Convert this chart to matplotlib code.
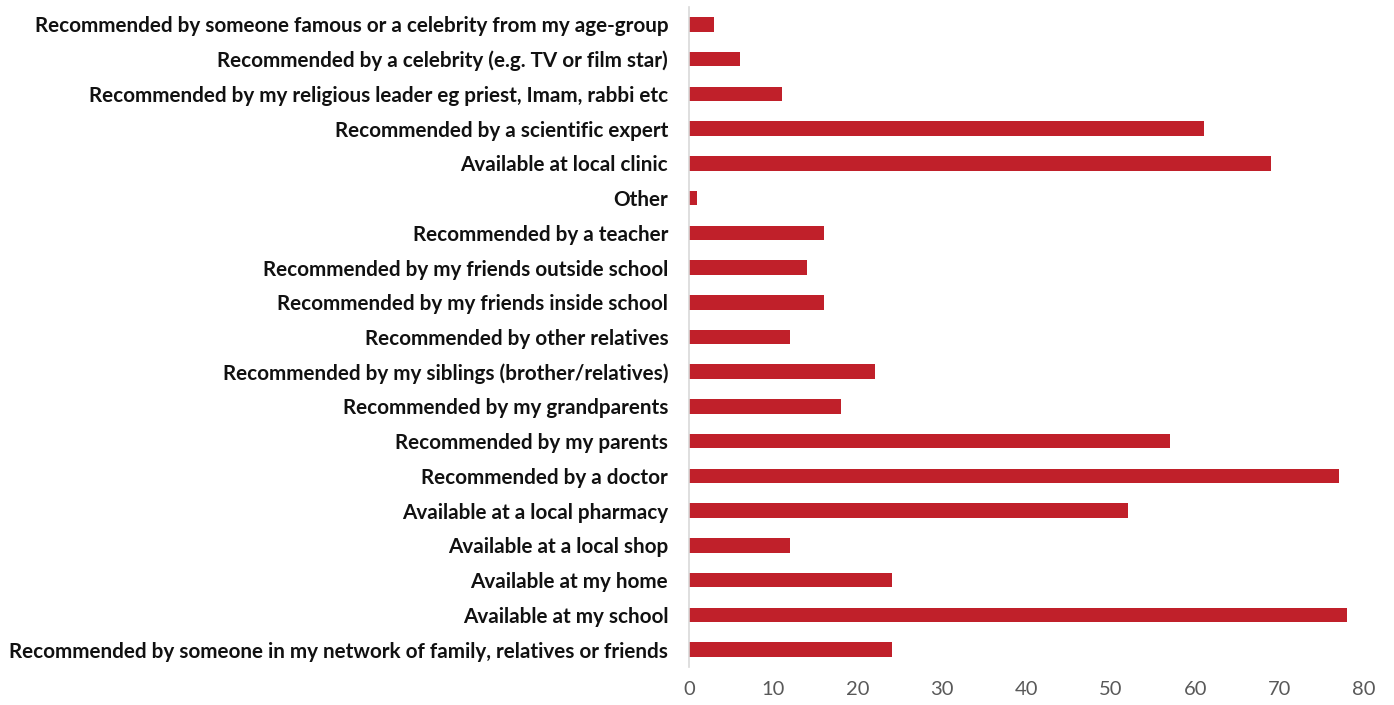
import numpy as np
import matplotlib.pyplot as plt

# ═══ Data ═════════════════════════════════════════════════════════════════

labels = [
  'Recommended by someone famous or a celebrity from my age-group',
  'Recommended by a celebrity (e.g. TV or film star)',
  'Recommended by my religious leader eg priest, Imam, rabbi etc',
  'Recommended by a scientific expert',
  'Available at local clinic',
  'Other',
  'Recommended by a teacher',
  'Recommended by my friends outside school',
  'Recommended by my friends inside school',
  'Recommended by other relatives',
  'Recommended by my siblings (brother/relatives)',
  'Recommended by my grandparents',
  'Recommended by my parents',
  'Recommended by a doctor',
  'Available at a local pharmacy',
  'Available at a local shop',
  'Available at my home',
  'Available at my school',
  'Recommended by someone in my network of family, relatives or friends',
]
values = [3, 6, 11, 61, 69, 1, 16, 14, 16, 12, 22, 18, 57, 77, 52, 12, 24, 78, 24]
xticks = [0, 10, 20, 30, 40, 50, 60, 70, 80]

# ═══ Figure ═══════════════════════════════════════════════════════════════

plt.rcParams['font.family'] = ['Lato', 'DejaVu Sans']

fig = plt.figure(figsize=(13.94, 7.05), dpi=100)
ax = fig.add_axes([0.4943, 0.054, 0.4842, 0.936])

y = np.arange(len(labels))
ax.barh(y, values, height=0.42, color='#C0202A')

ax.set_ylim(len(labels) - 0.5, -0.5)
ax.set_xlim(0, 80)
ax.set_yticks(y)
ax.set_yticklabels(labels, fontsize=14.9, fontweight='bold', color='#111111')
ax.set_xticks(xticks)
ax.set_xticklabels([str(t) for t in xticks], fontsize=14.5, color='#595959')
ax.tick_params(axis='both', length=0)
ax.tick_params(axis='y', pad=15)
ax.tick_params(axis='x', pad=10)

for s in ['top', 'right', 'bottom']:
  ax.spines[s].set_visible(False)
ax.spines['left'].set_color('#D9D9D9')
ax.spines['left'].set_linewidth(1.2)

fig.savefig('out.png', dpi=100)
